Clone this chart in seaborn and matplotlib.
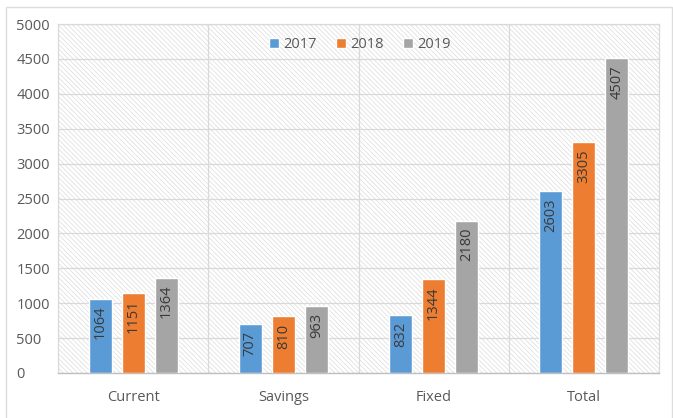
import matplotlib
matplotlib.use("Agg")
import matplotlib.pyplot as plt
import seaborn as sns
import pandas as pd
from matplotlib.patches import Rectangle

categories = ["Current", "Savings", "Fixed", "Total"]
years = ["2017", "2018", "2019"]
values_2017 = [1064, 707, 832, 2603]
values_2018 = [1151, 810, 1344, 3305]
values_2019 = [1364, 963, 2180, 4507]
y_ticks = [0, 500, 1000, 1500, 2000, 2500, 3000, 3500, 4000, 4500, 5000]

colors = ["#5B9BD5", "#ED7D31", "#A5A5A5"]
text_color = "#595959"
grid_color = "#d9d9d9"

rows = []
for yr, vals in zip(years, [values_2017, values_2018, values_2019]):
    for c, v in zip(categories, vals):
        rows.append({"Category": c, "Year": yr, "Value": v})
df = pd.DataFrame(rows)

sns.set_style("white")
plt.rcParams["font.family"] = ["Open Sans", "DejaVu Sans"]
plt.rcParams["hatch.linewidth"] = 0.5

fig = plt.figure(figsize=(6.73, 4.18), dpi=100)
ax = fig.add_axes([58 / 673, 1 - 373 / 418, 601 / 673, 349 / 418])

# figure outer border
fig.patches.append(Rectangle((6 / 673, -0.02), 666 / 673, 1 - 7 / 418 + 0.02,
                             transform=fig.transFigure, fill=False,
                             edgecolor="#dddddd", linewidth=1.0))

# hatched plot background
ax.add_patch(Rectangle((0, 0), 1, 1, transform=ax.transAxes, facecolor="white",
                       edgecolor="#dcdcdc", linewidth=0, hatch="\\" * 7, zorder=0))

sns.barplot(data=df, x="Category", y="Value", hue="Year", palette=colors,
            width=0.66, gap=0.3, saturation=1, ax=ax, zorder=3, legend=True)

ax.set_xlim(-0.5, 3.5)
ax.set_ylim(0, 5000)
ax.set_yticks(y_ticks)
ax.set_yticklabels([str(t) for t in y_ticks])
ax.set_xticks(range(len(categories)))
ax.set_xticklabels(categories)
ax.set_xticks([i + 0.5 for i in range(len(categories) - 1)], minor=True)
ax.grid(axis="y", color=grid_color, linewidth=0.9, zorder=1)
ax.grid(axis="x", which="minor", color=grid_color, linewidth=0.9, zorder=1)
ax.grid(axis="x", which="major", visible=False)
ax.set_axisbelow(True)
ax.set_xlabel("")
ax.set_ylabel("")

for s in ["top", "left", "right"]:
    ax.spines[s].set_color(grid_color)
    ax.spines[s].set_linewidth(0.9)
ax.spines["bottom"].set_color("#bfbfbf")
ax.spines["bottom"].set_linewidth(1.0)

ax.tick_params(axis="y", length=0, labelsize=10.5, labelcolor=text_color, pad=30)
for lbl in ax.get_yticklabels():
    lbl.set_horizontalalignment("left")
ax.tick_params(axis="x", which="both", length=0, labelsize=10.5, labelcolor=text_color, pad=12)

# value labels inside bar ends
for cont, vals in zip(ax.containers, [values_2017, values_2018, values_2019]):
    for patch, v in zip(cont.patches, vals):
        xc = patch.get_x() + patch.get_width() / 2
        ax.annotate(str(v), (xc, v), xytext=(0, -5), textcoords="offset points",
                    rotation=90, ha="center", va="top", fontsize=10.5,
                    color="#3a3a3a", zorder=5)

leg = ax.legend(loc="center", bbox_to_anchor=(0.502, 0.94), ncol=3, frameon=False,
                fontsize=10.5, handlelength=0.7, handleheight=0.7, handletextpad=0.3,
                columnspacing=1.3)
for t in leg.get_texts():
    t.set_color(text_color)

fig.savefig("out.png", dpi=100)
